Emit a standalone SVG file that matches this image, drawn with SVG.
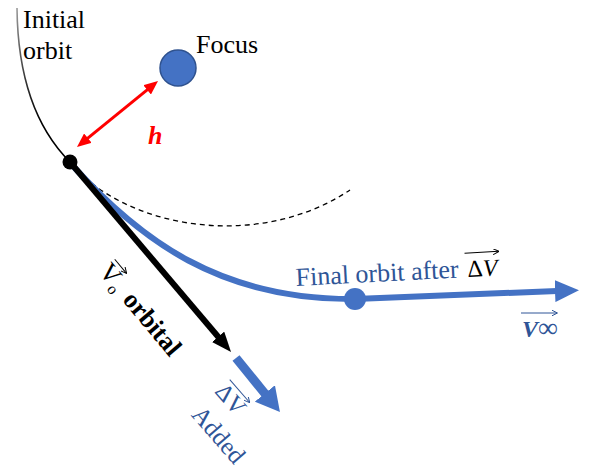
<svg xmlns="http://www.w3.org/2000/svg" width="590" height="472" viewBox="0 0 590 472">
<style>
text{font-family:"Liberation Serif","Times New Roman",serif;}
.blk{fill:#000;}
.blue{fill:#2F5597;}
.ovr{stroke-width:1;fill:none;}
</style>
<defs>
<linearGradient id="gInit" gradientUnits="userSpaceOnUse" x1="0" y1="8" x2="0" y2="120">
<stop offset="0" stop-color="#9a9a9a"/>
<stop offset="1" stop-color="#000"/>
</linearGradient>
<marker id="arrBlack" markerUnits="userSpaceOnUse" viewBox="0 0 20 16" markerWidth="20" markerHeight="16" refX="2" refY="8" orient="auto"><path d="M0,0 L20,8 L0,16 z" fill="#000"/></marker>
<marker id="arrBlueDV" markerUnits="userSpaceOnUse" viewBox="0 0 24 26" markerWidth="24" markerHeight="26" refX="2" refY="13" orient="auto"><path d="M0,0 L24,13 L0,26 z" fill="#4472C4"/></marker>
<marker id="arrBlueInf" markerUnits="userSpaceOnUse" viewBox="0 0 24 22" markerWidth="24" markerHeight="22" refX="2" refY="11" orient="auto"><path d="M0,0 L24,11 L0,22 z" fill="#4472C4"/></marker>
<marker id="arrRed" markerUnits="userSpaceOnUse" viewBox="0 0 14 12" markerWidth="14" markerHeight="12" refX="2" refY="6" orient="auto-start-reverse"><path d="M0,0 L14,6 L0,12 z" fill="#FF0000"/></marker>
<marker id="tinyK" markerUnits="userSpaceOnUse" viewBox="0 0 6 6" markerWidth="6" markerHeight="6" refX="5.5" refY="3" orient="auto"><path d="M0,0 L6,3 L0,6" fill="none" stroke-width="1" stroke="#000"/></marker>
<marker id="tinyB" markerUnits="userSpaceOnUse" viewBox="0 0 6 6" markerWidth="6" markerHeight="6" refX="5.5" refY="3" orient="auto"><path d="M0,0 L6,3 L0,6" fill="none" stroke-width="1" stroke="#2F5597"/></marker>
</defs>

<g id="initial-orbit">
<path d="M17,8 Q18,110 70,162" fill="none" stroke="url(#gInit)" stroke-width="1.6"/>
<text class="blk" x="23" y="28" font-size="26">Initial</text>
<text class="blk" x="23" y="59" font-size="26">orbit</text>
</g>

<g id="connectors">
<path id="dashed-orbit" d="M72,165 C130,230 260,250 350,190" fill="none" stroke="#000" stroke-width="1.3" stroke-dasharray="5,4"/>
<path id="final-orbit" d="M72,165 C140,240 220,300 355,299" fill="none" stroke="#4472C4" stroke-width="6"/>
<line id="v-inf" x1="355" y1="299" x2="557" y2="291" stroke="#4472C4" stroke-width="6" marker-end="url(#arrBlueInf)"/>
<line id="v0" x1="70" y1="162" x2="219.4" y2="338.3" stroke="#000" stroke-width="6" marker-end="url(#arrBlack)"/>
<line id="dv" x1="236" y1="358" x2="266.1" y2="395" stroke="#4472C4" stroke-width="9" marker-end="url(#arrBlueDV)"/>
<line id="h" x1="86.3" y1="139.4" x2="148.7" y2="88.6" stroke="#FF0000" stroke-width="3" marker-start="url(#arrRed)" marker-end="url(#arrRed)"/>
</g>

<g id="start-point">
<circle cx="70" cy="162" r="7.5" fill="#000"/>
</g>

<g id="focus">
<circle cx="178" cy="68" r="18" fill="#4472C4" stroke="#2F528F" stroke-width="1.5"/>
<text class="blk" x="196" y="53" font-size="26">Focus</text>
</g>

<g id="h-label">
<text x="148" y="144" font-size="26" font-weight="bold" font-style="italic" fill="#FF0000">h</text>
</g>

<g id="final-point">
<circle cx="355" cy="299" r="11" fill="#4472C4"/>
</g>

<g id="final-label" transform="translate(296,286) rotate(-3)">
<text class="blue" x="0" y="0" font-size="26">Final orbit after</text>
<text class="blk" x="172" y="0" font-size="24">Δ<tspan font-style="italic">V</tspan></text>
<path class="ovr" d="M170,-24 L204,-24" stroke="#000" marker-end="url(#tinyK)"/>
</g>

<g id="vinf-label">
<text class="blue" x="522" y="337" font-size="24" font-weight="bold" font-style="italic">V<tspan font-size="28" font-weight="normal" font-style="normal" dx="0">∞</tspan></text>
<path class="ovr" d="M521,313 L557,313" stroke="#2F5597" marker-end="url(#tinyB)"/>
</g>

<g id="v0-label" transform="translate(98,272) rotate(50)">
<text class="blk" x="0" y="0" font-size="26">V<tspan font-size="16" dy="5">o</tspan><tspan dy="-5" dx="10" font-weight="bold">orbital</tspan></text>
<path class="ovr" d="M1,-21 L19,-21" stroke="#000" marker-end="url(#tinyK)"/>
</g>

<g id="dv-label" transform="translate(214,392) rotate(49)">
<text class="blue" x="0" y="0" font-size="24">ΔV</text>
<path class="ovr" d="M1,-20 L31,-20" stroke="#2F5597" marker-end="url(#tinyB)"/>
<text class="blue" x="2" y="33" font-size="25">Added</text>
</g>
</svg>
